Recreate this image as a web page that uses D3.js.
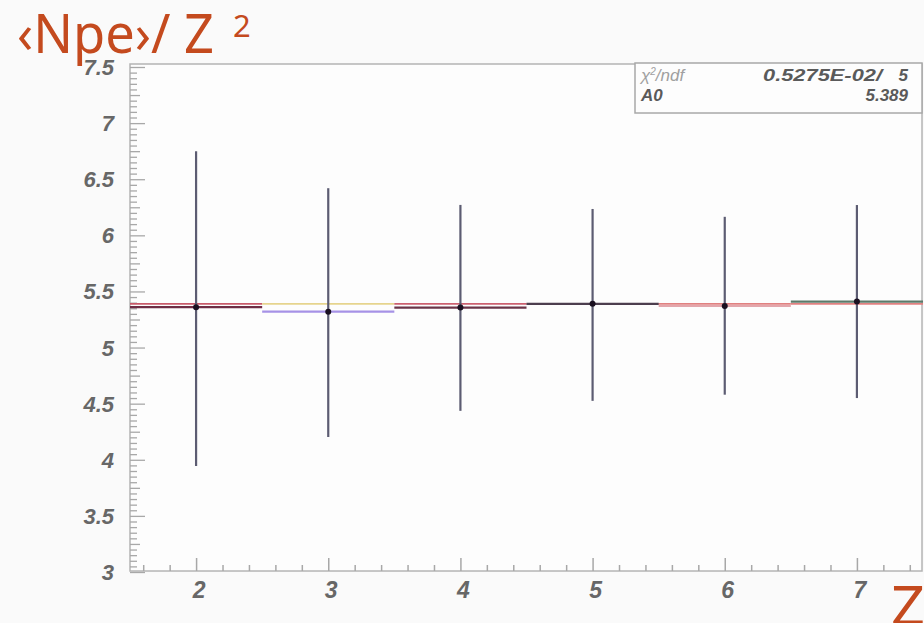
<!DOCTYPE html>
<html>
<head>
<meta charset="utf-8">
<script src="https://cdn.jsdelivr.net/npm/d3@7"></script>
<style>
  html, body { margin: 0; padding: 0; background: #fafafa; }
  svg { display: block; }
</style>
</head>
<body>
<svg id="chart" width="924" height="623"></svg>
<script>
// Mean photoelectron yield per unit charge squared, by ion charge Z
const charges   = [2, 3, 4, 5, 6, 7];
const npeOverZ2 = [5.36, 5.32, 5.356, 5.39, 5.37, 5.41];
const errUp     = [1.39, 1.10, 0.915, 0.845, 0.795, 0.86];
const errDown   = [1.415, 1.117, 0.92, 0.865, 0.79, 0.86];
const binHalfWidth = 0.5;

// Constant fit (pol0) result
const fitA0 = 5.389;
const fitChi2 = "0.5275E-02/";
const fitNdf = "5";

const xTicks = [2, 3, 4, 5, 6, 7];
const yTicks = [3, 3.5, 4, 4.5, 5, 5.5, 6, 6.5, 7, 7.5];

// per-bin colours of the horizontal error bars and of the fit segment under them
const barColors = ["#6e2c44", "#a692e6", "#6a3448", "#4c3e4e", "#d88890", "#5c7a6a"];
const fitColors = ["#c85a6a", "#e6d48e", "#cc6070", "#d87070", "#e08080", "#e08080"];
const barWidths = [2.4, 2.2, 2.2, 2.2, 1.4, 2.2];

const svg = d3.select("#chart");
const frame = { left: 130, right: 922, top: 64, bottom: 571 };

const x = d3.scaleLinear().domain([1.5, 7.5]).range([frame.left, 923]);
const y = d3.scaleLinear().domain([3, 7.5]).range([572, 67]);

// plot area
svg.append("rect")
  .attr("x", frame.left).attr("y", frame.top)
  .attr("width", frame.right - frame.left).attr("height", frame.bottom - frame.top)
  .attr("fill", "#fdfdfd").attr("stroke", "#b4b4b4").attr("stroke-width", 1.5);

// x axis ticks (major every 1, minor every 0.2)
const xMinor = d3.range(16, 75, 2).map(v => v / 10).filter(v => Math.abs(v - Math.round(v)) > 1e-6);
const xAxisMinor = d3.axisTop(x).tickValues(xMinor).tickSize(6).tickFormat("");
const xAxisMajor = d3.axisTop(x).tickValues(xTicks).tickSize(13).tickFormat("");
[xAxisMinor, xAxisMajor].forEach(ax => {
  const g = svg.append("g").attr("transform", `translate(0,${frame.bottom})`).call(ax);
  g.select(".domain").remove();
  g.selectAll("line").attr("stroke", "#a8a8a8").attr("stroke-width", 1.5);
});

// y axis ticks (major every 0.5, medium every 0.25, minor every 0.05)
const yMinor = d3.range(61, 150).map(v => v / 20).filter(v => Math.abs(v * 4 - Math.round(v * 4)) > 1e-6);
const yMid = [3.25, 3.75, 4.25, 4.75, 5.25, 5.75, 6.25, 6.75, 7.25];
const yAxes = [
  d3.axisRight(y).tickValues(yMinor).tickSize(7).tickFormat(""),
  d3.axisRight(y).tickValues(yMid).tickSize(10).tickFormat(""),
  d3.axisRight(y).tickValues(yTicks).tickSize(15).tickFormat("")
];
yAxes.forEach(ax => {
  const g = svg.append("g").attr("transform", `translate(${frame.left},0)`).call(ax);
  g.select(".domain").remove();
  g.selectAll("line").attr("stroke", "#a8a8a8").attr("stroke-width", 1.3);
});

// tick labels
const labelFont = "'Liberation Sans', Arial, sans-serif";
svg.append("g").selectAll("text").data(xTicks).join("text")
  .attr("x", d => x(d) + 3).attr("y", 598)
  .attr("text-anchor", "middle")
  .attr("font-family", labelFont).attr("font-size", 23)
  .attr("font-style", "italic").attr("font-weight", "bold")
  .attr("fill", "#676767")
  .text(d => d);

svg.append("g").selectAll("text").data(yTicks).join("text")
  .attr("x", 114).attr("y", d => y(d) + 8)
  .attr("text-anchor", "end")
  .attr("font-family", labelFont).attr("font-size", 22)
  .attr("font-style", "italic").attr("font-weight", "bold")
  .attr("fill", "#676767")
  .text(d => d);

// fit line, drawn bin by bin
const plot = svg.append("g");
plot.selectAll("line.fit").data(charges).join("line")
  .attr("class", "fit")
  .attr("x1", d => x(d - binHalfWidth)).attr("x2", d => x(d + binHalfWidth))
  .attr("y1", y(fitA0)).attr("y2", y(fitA0))
  .attr("stroke", (d, i) => fitColors[i]).attr("stroke-width", 1.7);

// vertical error bars
plot.selectAll("line.ey").data(charges).join("line")
  .attr("class", "ey")
  .attr("x1", d => x(d)).attr("x2", d => x(d))
  .attr("y1", (d, i) => y(npeOverZ2[i] + errUp[i]))
  .attr("y2", (d, i) => y(npeOverZ2[i] - errDown[i]))
  .attr("stroke", "#5c5c72").attr("stroke-width", 2.2);

// horizontal bin-width bars
plot.selectAll("line.ex").data(charges).join("line")
  .attr("class", "ex")
  .attr("x1", d => x(d - binHalfWidth)).attr("x2", d => x(d + binHalfWidth))
  .attr("y1", (d, i) => y(npeOverZ2[i])).attr("y2", (d, i) => y(npeOverZ2[i]))
  .attr("stroke", (d, i) => barColors[i]).attr("stroke-width", (d, i) => barWidths[i]);

// markers
plot.selectAll("circle").data(charges).join("circle")
  .attr("cx", d => x(d)).attr("cy", (d, i) => y(npeOverZ2[i]))
  .attr("r", 3).attr("fill", "#1a1020");

// statistics box
const box = svg.append("g");
box.append("rect")
  .attr("x", 635).attr("y", 63).attr("width", 287).attr("height", 50)
  .attr("fill", "#fdfdfd").attr("stroke", "#a8a8a8").attr("stroke-width", 1.5);
function statText(tx, ty, anchor, weight, color) {
  return box.append("text").attr("x", tx).attr("y", ty)
    .attr("text-anchor", anchor).attr("font-weight", weight).attr("fill", color)
    .attr("font-family", labelFont).attr("font-size", 17).attr("font-style", "italic");
}
const chiLabel = statText(641, 81, "start", "normal", "#a0a0a0");
chiLabel.append("tspan").text("χ");
chiLabel.append("tspan").attr("dy", -6).attr("font-size", 10).text("2");
chiLabel.append("tspan").attr("dy", 6).text("/ndf");
statText(763, 81, "start", "bold", "#5a5a5a")
  .attr("textLength", 119).attr("lengthAdjust", "spacingAndGlyphs").text(fitChi2);
statText(908, 81, "end", "bold", "#5a5a5a").text(fitNdf);
statText(641, 101, "start", "bold", "#5a5a5a").text("A0");
statText(908, 101, "end", "bold", "#5a5a5a").text(d3.format(".3f")(fitA0));

// axis titles
const titleFont = "'Noto Sans', 'DejaVu Sans', sans-serif";
const titleColor = "#c44a1e";
svg.append("text")
  .attr("x", 17).attr("y", 53)
  .attr("font-family", titleFont).attr("font-size", 54)
  .attr("textLength", 197).attr("lengthAdjust", "spacingAndGlyphs")
  .attr("fill", titleColor)
  .text("‹Npe›/ Z");
svg.append("text")
  .attr("x", 233).attr("y", 37)
  .attr("font-family", titleFont).attr("font-size", 31)
  .attr("fill", titleColor)
  .text("2");
svg.append("text")
  .attr("x", 891).attr("y", 625)
  .attr("font-family", titleFont).attr("font-size", 54)
  .attr("textLength", 34).attr("lengthAdjust", "spacingAndGlyphs")
  .attr("fill", titleColor)
  .text("Z");
</script>
</body>
</html>
